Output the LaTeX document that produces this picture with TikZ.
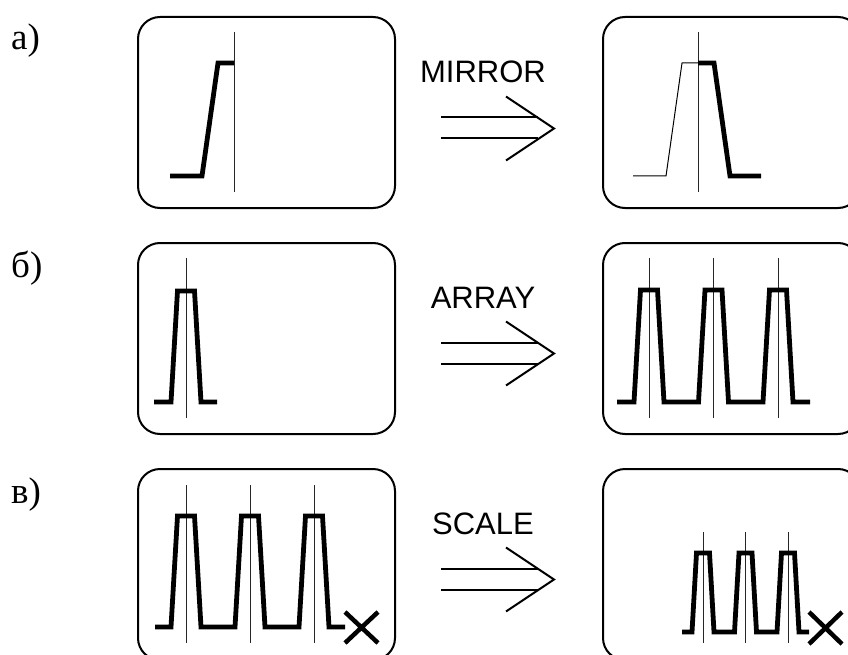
\documentclass[tikz,border=0pt]{standalone}
\usepackage{fontspec}
\setmainfont{Liberation Serif}
\newfontfamily\opfont{Liberation Sans}
\tikzset{
  panel/.style={draw, line width=2pt, rounded corners=22pt, minimum width=257pt,
                minimum height=191pt, inner sep=0pt, anchor=north west},
  signal/.style={line width=4.8pt, line join=miter},
  ghost/.style={line width=1pt},
  axis/.style={line width=1pt, black!85},
  cross/.style={line width=4.5pt},
  implies/.style={line width=2pt, line join=miter},
  oplabel/.style={font=\opfont\fontsize{31}{36}\selectfont, anchor=base, inner sep=0pt},
  rowlabel/.style={font=\fontsize{37}{42}\selectfont, anchor=base west, inner sep=0pt},
}
\begin{document}
\begin{tikzpicture}[x=1pt, y=-1pt]
  \useasboundingbox (0,0) rectangle (848,655);
  \clip (0,0) rectangle (848,655);

  % row labels
  \node[rowlabel] (la) at (11,50)  {а)};
  \node[rowlabel] (lb) at (11,277) {б)};
  \node[rowlabel] (lc) at (11,503) {в)};

  % screens: input on the left, result on the right
  \node[panel] (a-in)  at (137,16)  {};
  \node[panel] (a-out) at (602,16)  {};
  \node[panel] (b-in)  at (137,242) {};
  \node[panel] (b-out) at (602,242) {};
  \node[panel] (c-in)  at (137,468) {};
  \node[panel] (c-out) at (602,468) {};

  % operation names and double arrows
  \foreach \name/\b/\op in {ma/83/MIRROR, mb/308/ARRAY, mc/534/SCALE} {
    \node[oplabel] (op-\name) at (483,\b) {\op};
    \coordinate (tip-\name) at (554,\b+45.5);
    \draw[implies] (441,\b+34.5) -- (538,\b+34.5);
    \draw[implies] (441,\b+55.5) -- (538,\b+55.5);
    \draw[implies] (506,\b+13.5) -- (tip-\name) -- (506,\b+77.5);
  }

  % a) mirror of a step edge about the axis
  \draw[axis] (234,32) -- (234,192);
  \draw[signal] (170,176) -- (202,176) -- (218,63) -- (234,63);
  \draw[axis] (698,32) -- (698,192);
  \draw[ghost] (633,176) -- (666,176) -- (682,63) -- (698,63);
  \draw[signal] (698,63) -- (714,63) -- (730,176) -- (761,176);

  % b) one pulse turned into an array of three
  \draw[axis] (186,258) -- (186,418);
  \draw[signal] (154,402) foreach \c in {186} {
    -- (\c-15,402) -- (\c-8.5,291) -- (\c+8.5,291) -- (\c+15,402) -- (\c+31,402)};
  \foreach \c in {649,713.5,778} \draw[axis] (\c,258) -- (\c,418);
  \draw[signal] (617,402) foreach \c in {649,713.5,778} {
    -- (\c-15,402) -- (\c-8.5,290) -- (\c+8.5,290) -- (\c+15,402) -- (\c+32,402)};

  % c) the array scaled down
  \foreach \c in {186,250,314} \draw[axis] (\c,485) -- (\c,643);
  \draw[signal] (155,627) foreach \c in {186,250,314} {
    -- (\c-15,627) -- (\c-8.5,516) -- (\c+8.5,516) -- (\c+15,627) -- (\c+31,627)};
  \draw[cross] (345,612) -- (378,643) (345,643) -- (378,612);

  \foreach \c in {703,745.5,788} \draw[axis] (\c,532) -- (\c,643);
  \draw[signal] (682,632) foreach \c in {703,745.5,788} {
    -- (\c-11,632) -- (\c-6.5,553) -- (\c+6.5,553) -- (\c+11,632) -- (\c+21,632)};
  \draw[cross] (809,612) -- (842,644) (809,644) -- (842,612);
\end{tikzpicture}
\end{document}
